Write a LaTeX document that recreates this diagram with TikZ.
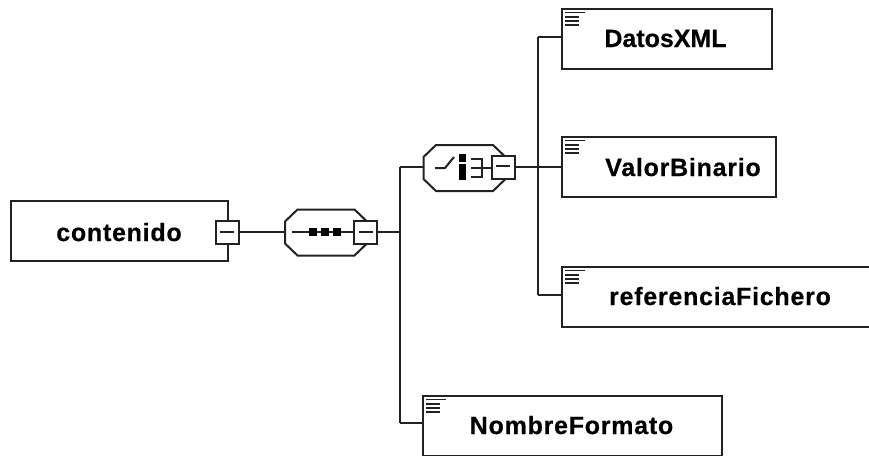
\documentclass[tikz,border=0pt]{standalone}
\usepackage{fontspec}
\setmainfont{Liberation Sans}
\newfontfamily\spaced[LetterSpace=3,FakeBold=0.4]{Liberation Sans Bold}
\newfontfamily\plainb[FakeBold=0.4]{Liberation Sans Bold}
\definecolor{ink}{HTML}{222222}
\tikzset{
  every node/.style={inner sep=0pt,outer sep=0pt},
  ln/.style={draw=ink,line width=2pt},
  elem/.style={ln,rectangle,fill=white},
  lbl/.style={font=\plainb\fontsize{25}{25}\selectfont,text=black,anchor=base},
  lblsp/.style={font=\spaced\fontsize{25}{25}\selectfont,text=black,anchor=base},
  minusbox/.style={ln,rectangle,fill=white,minimum width=23pt,minimum height=23pt},
  octa/.style={rectangle,minimum width=82pt,minimum height=46pt},
  octaline/.style={ln,fill=white,line join=miter},
  sym/.style={draw=ink,line width=2pt},
  icon line/.style={draw=ink,line width=1.7pt},
  bar/.style={fill=black,draw=none,rectangle}
}
\newcommand{\typeicon}[2]{%
  \draw[icon line] (#1+3,#2+3.5) -- (#1+23,#2+3.5);
  \draw[icon line] (#1+3,#2+7.7) -- (#1+17,#2+7.7);
  \draw[icon line] (#1+3,#2+11.8) -- (#1+17,#2+11.8);
  \draw[icon line] (#1+3,#2+16) -- (#1+17,#2+16);
}
\newcommand{\octagon}[1]{%
  \draw[octaline] (#1.west) ++(0,-11) -- ++(0,22) -- ++(12.5,12) -- ++(57,0) -- ++(12.5,-12) -- ++(0,-22) -- ++(-12.5,-12) -- ++(-57,0) -- cycle;
}
\begin{document}
\begin{tikzpicture}[x=1pt,y=-1pt]
\useasboundingbox (0,0) rectangle (869,455);
\clip (0,0) rectangle (869,455);
\fill[white] (0,0) rectangle (869,455);

% elements
\node[elem,minimum width=217pt,minimum height=60pt] (cont) at (119.5,231) {};
\node[elem,minimum width=210pt,minimum height=60pt] (datos) at (667,39) {};
\node[elem,minimum width=214pt,minimum height=60pt] (valor) at (669,167) {};
\node[elem,minimum width=330pt,minimum height=60pt] (ref) at (727,297) {};
\node[elem,minimum width=299pt,minimum height=60pt] (nombre) at (572.5,426) {};

% compositors
\node[octa] (seq) at (326,232.5) {};
\node[octa] (cho) at (464.5,168) {};
\octagon{seq}
\octagon{cho}

% minus boxes
\node[minusbox] (m1) at (227,232) {};
\node[minusbox] (m2) at (365.5,232) {};
\node[minusbox] (m3) at (503,167) {};

% joints
\coordinate (j1) at (400,232);
\coordinate (j1top) at (400,167);
\coordinate (j1bot) at (400,423);
\coordinate (j2) at (538,167);
\coordinate (j2top) at (538,37);
\coordinate (j2bot) at (538,295);

% connectors
\draw[ln] (m1.east) -- (seq.west |- m1.east);
\draw[ln] (m2.east) -- (j1);
\draw[ln] (j1top) -- (j1bot);
\draw[ln] (j1top) -- (cho.west |- j1top);
\draw[ln] (j1bot) -- (nombre.west |- j1bot);
\draw[ln] (m3.east) -- (valor.west |- m3.east);
\draw[ln] (j2top) -- (j2bot);
\draw[ln] (j2top) -- (datos.west |- j2top);
\draw[ln] (j2bot) -- (ref.west |- j2bot);

% minus signs
\draw[sym] (220,231.5) -- (234,231.5);
\draw[sym] (358.5,231.5) -- (372.5,231.5);
\draw[sym] (496,165.5) -- (510,165.5);

% sequence symbol
\draw[sym] (292,231.5) -- (354,231.5);
\node[bar,minimum width=8pt,minimum height=8pt] (d1) at (313,232) {};
\node[bar,minimum width=8pt,minimum height=8pt] (d2) at (325,232) {};
\node[bar,minimum width=8pt,minimum height=8pt] (d3) at (337,232) {};

% choice symbol
\draw[sym] (435,168) -- (445,168) -- (454,157);
\node[bar,minimum width=7pt,minimum height=8pt] (b1) at (462.5,158) {};
\node[bar,minimum width=7pt,minimum height=16pt] (b2) at (462.5,172) {};
\draw[sym] (471,159) -- (482,159) -- (482,177) -- (471,177);
\draw[sym] (471,168) -- (492,168);

% type icons
\typeicon{562}{9}
\typeicon{562}{137}
\typeicon{562}{267}
\typeicon{423}{396}

% labels
\node[lblsp] (tcont) at (119,241) {contenido};
\node[lbl] (tdatos) at (665.5,47) {DatosXML};
\node[lblsp] (tvalor) at (683,176) {ValorBinario};
\node[lblsp] (tref) at (720,305) {referenciaFichero};
\node[lblsp] (tnom) at (571.5,434) {NombreFormato};
\end{tikzpicture}
\end{document}
